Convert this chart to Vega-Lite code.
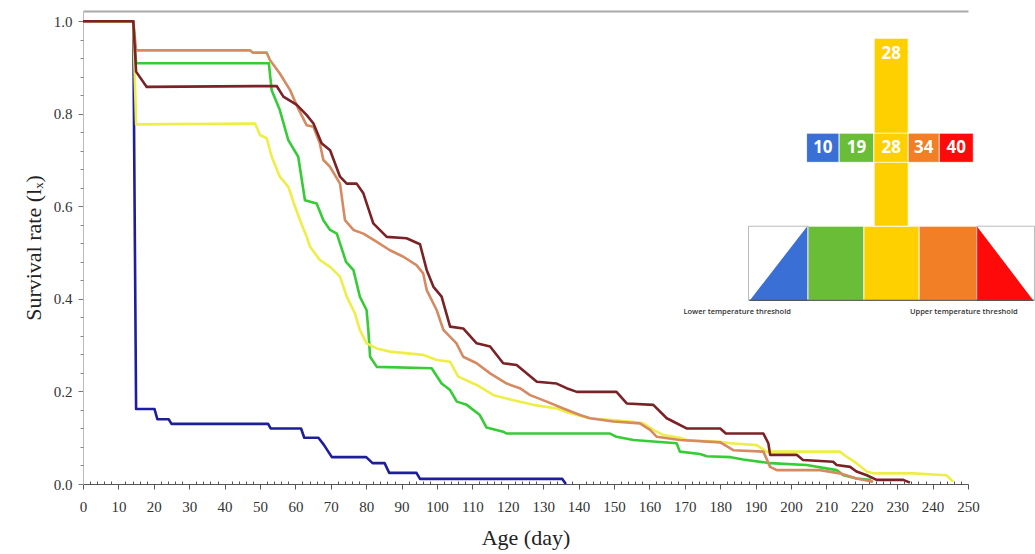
{
  "$schema": "https://vega.github.io/schema/vega-lite/v6.json",
  "width": 885,
  "height": 473,
  "autosize": {"type": "none"},
  "padding": {"left": 83, "top": 11, "right": 67, "bottom": 70},
  "background": "white",
  "config": {"view": {"stroke": null}},
  "datasets": {
    "curves": [
      {"t":"10","d":0,"s":1.0},{"t":"10","d":14.2,"s":1.0},{"t":"10","d":15,"s":0.162},{"t":"10","d":20.2,"s":0.162},{"t":"10","d":21,"s":0.14},{"t":"10","d":24.2,"s":0.14},{"t":"10","d":25,"s":0.13},{"t":"10","d":52.3,"s":0.13},{"t":"10","d":53,"s":0.12},{"t":"10","d":61.6,"s":0.12},{"t":"10","d":62.5,"s":0.10},{"t":"10","d":66.5,"s":0.10},{"t":"10","d":68,"s":0.085},{"t":"10","d":70.3,"s":0.058},{"t":"10","d":80,"s":0.058},{"t":"10","d":81.8,"s":0.045},{"t":"10","d":85.2,"s":0.045},{"t":"10","d":86.5,"s":0.024},{"t":"10","d":94.2,"s":0.024},{"t":"10","d":95.2,"s":0.011},{"t":"10","d":135.4,"s":0.011},{"t":"10","d":136.4,"s":0.0},
      {"t":"19","d":0,"s":1.0},{"t":"19","d":14.2,"s":1.0},{"t":"19","d":15,"s":0.909},{"t":"19","d":52.5,"s":0.909},{"t":"19","d":53.3,"s":0.851},{"t":"19","d":55.6,"s":0.808},{"t":"19","d":58,"s":0.743},{"t":"19","d":60.8,"s":0.707},{"t":"19","d":62.7,"s":0.613},{"t":"19","d":66,"s":0.606},{"t":"19","d":67.9,"s":0.57},{"t":"19","d":69.8,"s":0.549},{"t":"19","d":71.7,"s":0.541},{"t":"19","d":74.3,"s":0.48},{"t":"19","d":76.4,"s":0.462},{"t":"19","d":78.2,"s":0.405},{"t":"19","d":80.1,"s":0.376},{"t":"19","d":80.6,"s":0.333},{"t":"19","d":81.1,"s":0.275},{"t":"19","d":83,"s":0.253},{"t":"19","d":98.5,"s":0.25},{"t":"19","d":101.3,"s":0.217},{"t":"19","d":103.7,"s":0.203},{"t":"19","d":105.6,"s":0.178},{"t":"19","d":108.4,"s":0.171},{"t":"19","d":112.1,"s":0.149},{"t":"19","d":114,"s":0.122},{"t":"19","d":118.7,"s":0.113},{"t":"19","d":119.7,"s":0.109},{"t":"19","d":148.9,"s":0.109},{"t":"19","d":150.7,"s":0.102},{"t":"19","d":155.5,"s":0.095},{"t":"19","d":167.7,"s":0.088},{"t":"19","d":168.6,"s":0.07},{"t":"19","d":174.3,"s":0.065},{"t":"19","d":176.2,"s":0.06},{"t":"19","d":183,"s":0.058},{"t":"19","d":186.5,"s":0.053},{"t":"19","d":194.1,"s":0.045},{"t":"19","d":204.4,"s":0.041},{"t":"19","d":212.9,"s":0.03},{"t":"19","d":214.8,"s":0.019},{"t":"19","d":218.5,"s":0.012},{"t":"19","d":222.3,"s":0.009},{"t":"19","d":223,"s":0.004},
      {"t":"28","d":0,"s":1.0},{"t":"28","d":14.2,"s":1.0},{"t":"28","d":15,"s":0.777},{"t":"28","d":48.6,"s":0.779},{"t":"28","d":50,"s":0.754},{"t":"28","d":51.9,"s":0.747},{"t":"28","d":53.3,"s":0.707},{"t":"28","d":55.6,"s":0.664},{"t":"28","d":58,"s":0.642},{"t":"28","d":59.9,"s":0.599},{"t":"28","d":61.8,"s":0.56},{"t":"28","d":63.2,"s":0.534},{"t":"28","d":64.1,"s":0.513},{"t":"28","d":66.9,"s":0.484},{"t":"28","d":69.8,"s":0.469},{"t":"28","d":72.6,"s":0.448},{"t":"28","d":74.5,"s":0.405},{"t":"28","d":76.8,"s":0.369},{"t":"28","d":78.2,"s":0.333},{"t":"28","d":80.1,"s":0.304},{"t":"28","d":83,"s":0.293},{"t":"28","d":86.7,"s":0.286},{"t":"28","d":96.1,"s":0.279},{"t":"28","d":99.9,"s":0.268},{"t":"28","d":103.7,"s":0.264},{"t":"28","d":106,"s":0.232},{"t":"28","d":111.2,"s":0.214},{"t":"28","d":116,"s":0.192},{"t":"28","d":121.6,"s":0.181},{"t":"28","d":127.2,"s":0.171},{"t":"28","d":133.8,"s":0.163},{"t":"28","d":137.6,"s":0.153},{"t":"28","d":143.2,"s":0.142},{"t":"28","d":154.5,"s":0.135},{"t":"28","d":158.3,"s":0.131},{"t":"28","d":161.1,"s":0.117},{"t":"28","d":163.9,"s":0.106},{"t":"28","d":168.6,"s":0.1},{"t":"28","d":170.5,"s":0.095},{"t":"28","d":180,"s":0.091},{"t":"28","d":182.8,"s":0.088},{"t":"28","d":190.3,"s":0.084},{"t":"28","d":193.1,"s":0.07},{"t":"28","d":213.8,"s":0.07},{"t":"28","d":215.7,"s":0.059},{"t":"28","d":218.5,"s":0.045},{"t":"28","d":221.4,"s":0.027},{"t":"28","d":223.2,"s":0.023},{"t":"28","d":234.5,"s":0.023},{"t":"28","d":243.9,"s":0.019},{"t":"28","d":245.8,"s":0.005},
      {"t":"34","d":0,"s":1.0},{"t":"34","d":14.2,"s":1.0},{"t":"34","d":15,"s":0.937},{"t":"34","d":47.2,"s":0.937},{"t":"34","d":48,"s":0.932},{"t":"34","d":51.9,"s":0.932},{"t":"34","d":52.8,"s":0.916},{"t":"34","d":55.6,"s":0.887},{"t":"34","d":58.5,"s":0.851},{"t":"34","d":60.8,"s":0.811},{"t":"34","d":63.2,"s":0.775},{"t":"34","d":65.1,"s":0.772},{"t":"34","d":66.9,"s":0.736},{"t":"34","d":67.9,"s":0.7},{"t":"34","d":69.8,"s":0.685},{"t":"34","d":72.6,"s":0.649},{"t":"34","d":74,"s":0.57},{"t":"34","d":76.4,"s":0.549},{"t":"34","d":79.2,"s":0.541},{"t":"34","d":83,"s":0.523},{"t":"34","d":86.7,"s":0.505},{"t":"34","d":90.5,"s":0.491},{"t":"34","d":94.2,"s":0.473},{"t":"34","d":96.1,"s":0.455},{"t":"34","d":97.1,"s":0.419},{"t":"34","d":99.9,"s":0.376},{"t":"34","d":101.8,"s":0.333},{"t":"34","d":105.5,"s":0.304},{"t":"34","d":107.4,"s":0.275},{"t":"34","d":111.2,"s":0.261},{"t":"34","d":115,"s":0.239},{"t":"34","d":119.7,"s":0.217},{"t":"34","d":123.4,"s":0.207},{"t":"34","d":126.3,"s":0.192},{"t":"34","d":131,"s":0.178},{"t":"34","d":135.7,"s":0.163},{"t":"34","d":140.4,"s":0.149},{"t":"34","d":143.2,"s":0.142},{"t":"34","d":149.8,"s":0.135},{"t":"34","d":157.3,"s":0.131},{"t":"34","d":160.2,"s":0.117},{"t":"34","d":162.1,"s":0.102},{"t":"34","d":168.6,"s":0.095},{"t":"34","d":180,"s":0.09},{"t":"34","d":183.7,"s":0.073},{"t":"34","d":192.2,"s":0.07},{"t":"34","d":194.1,"s":0.037},{"t":"34","d":196,"s":0.03},{"t":"34","d":208.2,"s":0.03},{"t":"34","d":213.8,"s":0.023},{"t":"34","d":218.5,"s":0.012},{"t":"34","d":223.2,"s":0.005},
      {"t":"40","d":0,"s":1.0},{"t":"40","d":14.2,"s":1.0},{"t":"40","d":15,"s":0.891},{"t":"40","d":18,"s":0.858},{"t":"40","d":54.7,"s":0.86},{"t":"40","d":56.6,"s":0.837},{"t":"40","d":60.4,"s":0.819},{"t":"40","d":63.2,"s":0.797},{"t":"40","d":65.1,"s":0.779},{"t":"40","d":67.4,"s":0.736},{"t":"40","d":69.8,"s":0.721},{"t":"40","d":72.6,"s":0.664},{"t":"40","d":74.5,"s":0.649},{"t":"40","d":77.3,"s":0.649},{"t":"40","d":79.2,"s":0.628},{"t":"40","d":82,"s":0.563},{"t":"40","d":85.8,"s":0.534},{"t":"40","d":91.4,"s":0.531},{"t":"40","d":95.2,"s":0.518},{"t":"40","d":97.1,"s":0.462},{"t":"40","d":99,"s":0.426},{"t":"40","d":101.3,"s":0.405},{"t":"40","d":103.7,"s":0.34},{"t":"40","d":107.4,"s":0.336},{"t":"40","d":111.2,"s":0.304},{"t":"40","d":115,"s":0.297},{"t":"40","d":118.7,"s":0.261},{"t":"40","d":122.5,"s":0.257},{"t":"40","d":128.2,"s":0.221},{"t":"40","d":133.8,"s":0.217},{"t":"40","d":136.6,"s":0.207},{"t":"40","d":139.5,"s":0.199},{"t":"40","d":150.7,"s":0.199},{"t":"40","d":153.6,"s":0.174},{"t":"40","d":161.1,"s":0.171},{"t":"40","d":164.9,"s":0.142},{"t":"40","d":166.7,"s":0.135},{"t":"40","d":170.5,"s":0.12},{"t":"40","d":180,"s":0.12},{"t":"40","d":181.6,"s":0.109},{"t":"40","d":192.2,"s":0.109},{"t":"40","d":193.6,"s":0.088},{"t":"40","d":194.1,"s":0.063},{"t":"40","d":201.6,"s":0.063},{"t":"40","d":203.4,"s":0.052},{"t":"40","d":211.9,"s":0.048},{"t":"40","d":212.9,"s":0.041},{"t":"40","d":216.7,"s":0.037},{"t":"40","d":218.5,"s":0.027},{"t":"40","d":221.4,"s":0.019},{"t":"40","d":224.2,"s":0.009},{"t":"40","d":231.7,"s":0.009},{"t":"40","d":233.6,"s":0.003}
    ],
    "boxes": [
      {"temp":"19","x":204.9,"x2":220.6,"y":0.397,"y2":0.557},
      {"temp":"28","x":220.6,"x2":236.2,"y":0.397,"y2":0.557},
      {"temp":"34","x":236.2,"x2":252.5,"y":0.397,"y2":0.557},
      {"temp":"28","x":223.5,"x2":233.1,"y":0.557,"y2":0.963},
      {"temp":"10","x":204.4,"x2":213.6,"y":0.695,"y2":0.758},
      {"temp":"19","x":213.6,"x2":223.4,"y":0.695,"y2":0.758},
      {"temp":"28","x":223.4,"x2":233.1,"y":0.695,"y2":0.758},
      {"temp":"34","x":233.1,"x2":241.9,"y":0.695,"y2":0.758},
      {"temp":"40","x":241.9,"x2":251.5,"y":0.695,"y2":0.758}
    ],
    "labels": [
      {"label":"10","x":209,"y":0.727},
      {"label":"19","x":218.5,"y":0.727},
      {"label":"28","x":228.3,"y":0.727},
      {"label":"34","x":237.5,"y":0.727},
      {"label":"40","x":246.7,"y":0.727},
      {"label":"28","x":228.3,"y":0.93}
    ],
    "frames": [
      {"x":188.0,"x2":204.9,"y":0.397,"y2":0.557},
      {"x":252.5,"x2":268.8,"y":0.397,"y2":0.557}
    ],
    "thresholds": [
      {"label":"Lower temperature threshold","x":169.6,"y":0.372},
      {"label":"Upper temperature threshold","x":233.6,"y":0.372}
    ],
    "base": [{"x":188.2,"x2":268.6,"y":0.397}],
    "triLow": [{"x":188.4,"y":0.397},{"x":204.6,"y":0.557}],
    "triHigh": [{"x":252.5,"y":0.557},{"x":268.4,"y":0.397}]
  },
  "resolve": {"scale": {"color": "independent"}, "axis": {"x": "independent", "y": "independent"}},
  "layer": [
    {
      "data": {"name": "curves"},
      "mark": {"type": "line", "strokeWidth": 2.6, "strokeJoin": "round"},
      "encoding": {
        "x": {"field": "d", "type": "quantitative", "scale": {"domain": [0, 250], "nice": false, "zero": false},
          "axis": {"orient": "bottom", "values": [0,10,20,30,40,50,60,70,80,90,100,110,120,130,140,150,160,170,180,190,200,210,220,230,240,250], "format": "d", "title": "Age (day)", "grid": false,
            "labelOverlap": false, "labelBound": false, "labelFlush": false,
            "labelFont": "Liberation Serif", "labelFontSize": 15, "labelColor": "#333", "labelPadding": 10,
            "tickColor": "#555", "tickSize": 5, "domainColor": "#555", "domainWidth": 1.2,
            "titleFont": "Liberation Serif", "titleFontSize": 22, "titleFontWeight": "normal", "titleColor": "#222", "titlePadding": 13}},
        "y": {"field": "s", "type": "quantitative", "scale": {"domain": [0, 1.022], "nice": false, "zero": false},
          "axis": {"orient": "left", "values": [0,0.2,0.4,0.6,0.8,1.0], "format": ".1f", "title": "Survival rate (lₓ)", "grid": false,
            "labelOverlap": false, "labelFlush": false,
            "labelFont": "Liberation Serif", "labelFontSize": 15, "labelColor": "#333", "labelPadding": 6,
            "tickColor": "#777", "tickSize": 5, "domainColor": "#bbb", "domainWidth": 1,
            "titleFont": "Liberation Serif", "titleFontSize": 22, "titleFontWeight": "normal", "titleColor": "#222", "titlePadding": 8}},
        "color": {"field": "t", "type": "nominal", "legend": null,
          "scale": {"domain": ["10","19","28","34","40"], "range": ["#1e1e9c","#36cc36","#eeee48","#d58a62","#7b2226"]}}
      }
    },
    {
      "data": {"name": "boxes"},
      "mark": {"type": "rect", "stroke": "white", "strokeWidth": 0.8},
      "encoding": {
        "x": {"field": "x", "type": "quantitative", "scale": {"domain": [0, 250], "nice": false, "zero": false},
          "axis": {"orient": "bottom", "values": [2,4,6,8,12,14,16,18,22,24,26,28,32,34,36,38,42,44,46,48,52,54,56,58,62,64,66,68,72,74,76,78,82,84,86,88,92,94,96,98,102,104,106,108,112,114,116,118,122,124,126,128,132,134,136,138,142,144,146,148,152,154,156,158,162,164,166,168,172,174,176,178,182,184,186,188,192,194,196,198,202,204,206,208,212,214,216,218,222,224,226,228,232,234,236,238,242,244,246,248],
            "labels": false, "domain": false, "grid": false, "title": null, "tickSize": -3, "tickColor": "#555"}},
        "x2": {"field": "x2"},
        "y": {"field": "y", "type": "quantitative", "scale": {"domain": [0, 1.022], "nice": false, "zero": false},
          "axis": {"orient": "left", "values": [0.04,0.08,0.12,0.16,0.24,0.28,0.32,0.36,0.44,0.48,0.52,0.56,0.64,0.68,0.72,0.76,0.84,0.88,0.92,0.96],
            "labels": false, "domain": false, "grid": false, "title": null, "tickSize": 3, "tickColor": "#888"}},
        "y2": {"field": "y2"},
        "color": {"field": "temp", "type": "nominal", "legend": null,
          "scale": {"domain": ["10","19","28","34","40"], "range": ["#3a6fd6","#6abd36","#ffd000","#f27f25","#fe0a0a"]}}
      }
    },
    {
      "data": {"name": "triLow"},
      "mark": {"type": "area", "color": "#3a6fd6"},
      "encoding": {
        "x": {"field": "x", "type": "quantitative", "scale": {"domain": [0, 250], "nice": false, "zero": false},
          "axis": {"orient": "top", "labels": false, "ticks": false, "grid": false, "title": null, "domainColor": "#aaa", "domainWidth": 2}},
        "y": {"field": "y", "type": "quantitative", "scale": {"domain": [0, 1.022], "nice": false, "zero": false}, "axis": null},
        "y2": {"datum": 0.397}
      }
    },
    {
      "data": {"name": "triHigh"},
      "mark": {"type": "area", "color": "#fe0a0a"},
      "encoding": {
        "x": {"field": "x", "type": "quantitative", "axis": null},
        "y": {"field": "y", "type": "quantitative", "axis": null},
        "y2": {"datum": 0.397}
      }
    },
    {
      "data": {"name": "frames"},
      "mark": {"type": "rect", "fill": null, "fillOpacity": 0, "stroke": "#aaa", "strokeWidth": 0.8},
      "encoding": {
        "x": {"field": "x", "type": "quantitative", "axis": null},
        "x2": {"field": "x2"},
        "y": {"field": "y", "type": "quantitative", "axis": null},
        "y2": {"field": "y2"}
      }
    },
    {
      "data": {"name": "base"},
      "mark": {"type": "rule", "color": "#333", "strokeWidth": 1.2},
      "encoding": {
        "x": {"field": "x", "type": "quantitative", "axis": null},
        "x2": {"field": "x2"},
        "y": {"field": "y", "type": "quantitative", "axis": null}
      }
    },
    {
      "data": {"name": "labels"},
      "mark": {"type": "text", "font": "Open Sans", "fontWeight": "bold", "fontSize": 17, "color": "white", "align": "center", "baseline": "middle"},
      "encoding": {
        "x": {"field": "x", "type": "quantitative", "axis": null},
        "y": {"field": "y", "type": "quantitative", "axis": null},
        "text": {"field": "label"}
      }
    },
    {
      "data": {"name": "thresholds"},
      "mark": {"type": "text", "font": "Open Sans", "fontSize": 7.5, "fontWeight": 600, "color": "#333", "align": "left", "baseline": "middle"},
      "encoding": {
        "x": {"field": "x", "type": "quantitative", "axis": null},
        "y": {"field": "y", "type": "quantitative", "axis": null},
        "text": {"field": "label"}
      }
    }
  ]
}
